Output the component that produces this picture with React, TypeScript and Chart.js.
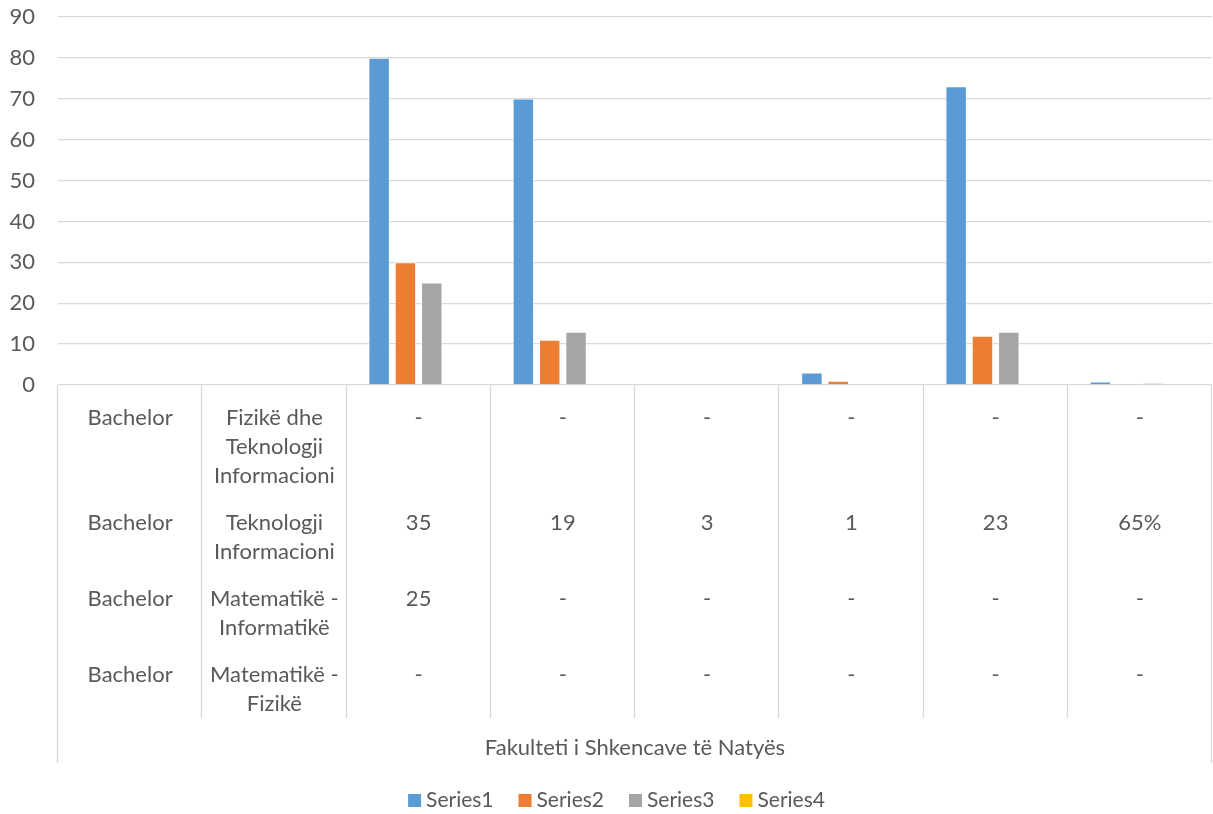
import React, { useEffect, useRef } from "react";
import { Chart, registerables } from "chart.js";

Chart.register(...registerables);

// ---- data ----
const seriesNames = ["Series1", "Series2", "Series3", "Series4"];
const series1 = [0, 0, 80, 70, 0, 3, 73, 0.8];
const series2 = [0, 0, 30, 11, 0, 1, 12, 0.3];
const series3 = [0, 0, 25, 13, 0, 0, 13, 0.5];
const series4 = [0, 0, 0, 0, 0, 0, 0, 0];
const seriesColors = ["#5B9BD5", "#ED7D31", "#A5A5A5", "#FFC000"];

// multi-level category axis (4 rows, 8 columns)
const degreeLabels = ["Bachelor", "Bachelor", "Bachelor", "Bachelor"];
const programLabels = [
  "Fizikë dhe\nTeknologji\nInformacioni",
  "Teknologji\nInformacioni",
  "Matematikë -\nInformatikë",
  "Matematikë -\nFizikë",
];
const rowFizikeTI = ["-", "-", "-", "-", "-", "-"];
const rowTeknologji = ["35", "19", "3", "1", "23", "65%"];
const rowMatInf = ["25", "-", "-", "-", "-", "-"];
const rowMatFiz = ["-", "-", "-", "-", "-", "-"];
const facultyLabel = "Fakulteti i Shkencave të Natyës";

const yTicksMin = 0;
const yTicksMax = 90;
const yTickStep = 10;

// build table: rows[r][c]
const valueRows = [rowFizikeTI, rowTeknologji, rowMatInf, rowMatFiz];
const tableRows: string[][] = valueRows.map((vals, r) => [degreeLabels[r], programLabels[r], ...vals]);
const categoryLabels: string[] = tableRows[0].map((_, c) => tableRows.map((row) => row[c].replace(/\n/g, " ")).join(" | "));

const FONT = "Lato";
const TEXT = "#595959";
const GRID = "#D9D9D9";
const FS = 22;

const tablePlugin = {
  id: "tableAxis",
  afterDraw(chart: any) {
    const { ctx, chartArea, scales } = chart;
    const xs = scales.x;
    const left = chartArea.left;
    const right = chartArea.right;
    const top = chartArea.bottom;
    const n = chart.data.labels.length;
    const lineH = 29;
    const padTop = 18;
    const rowHeights = tableRows.map((row) => padTop + lineH * Math.max(...row.map((t) => t.split("\n").length)));
    const tableBottom = top + rowHeights.reduce((a, b) => a + b, 0);
    const facultyBottom = tableBottom + 45;

    ctx.save();
    ctx.strokeStyle = GRID;
    ctx.lineWidth = 1.3;
    const bounds: number[] = [];
    for (let i = 0; i <= n; i++) {
      if (i === 0) bounds.push(left);
      else if (i === n) bounds.push(right);
      else bounds.push((xs.getPixelForValue(i - 1) + xs.getPixelForValue(i)) / 2);
    }
    ctx.beginPath();
    bounds.forEach((bx, i) => {
      const px = Math.round(bx) - 0.5;
      ctx.moveTo(px, top);
      ctx.lineTo(px, i === 0 || i === n ? facultyBottom : tableBottom);
    });
    ctx.stroke();

    ctx.fillStyle = TEXT;
    ctx.font = `${FS}px ${FONT}`;
    ctx.textAlign = "center";
    ctx.textBaseline = "middle";
    let y0 = top;
    tableRows.forEach((row, r) => {
      row.forEach((txt, c) => {
        const cx = xs.getPixelForValue(c);
        txt.split("\n").forEach((line, j) => {
          ctx.fillText(line, cx, y0 + padTop + lineH / 2 + j * lineH);
        });
      });
      y0 += rowHeights[r];
    });
    ctx.fillText(facultyLabel, (left + right) / 2, tableBottom + 30);

    // legend
    ctx.font = `21px ${FONT}`;
    const boxS = 13;
    const gapBoxText = 5;
    const gapItems = 25;
    const widths = chart.data.datasets.map((d: any) => boxS + gapBoxText + ctx.measureText(d.label).width);
    const total = widths.reduce((a: number, b: number) => a + b, 0) + gapItems * (widths.length - 1);
    let lx = chart.width / 2 + 10 - total / 2;
    const ly = 800.5;
    ctx.textAlign = "left";
    chart.data.datasets.forEach((d: any, i: number) => {
      ctx.fillStyle = d.backgroundColor;
      ctx.fillRect(lx, ly - boxS / 2, boxS, boxS);
      ctx.fillStyle = TEXT;
      ctx.fillText(d.label, lx + boxS + gapBoxText, ly);
      lx += widths[i] + gapItems;
    });
    ctx.restore();
  },
};

export default function App() {
  const ref = useRef<HTMLCanvasElement>(null);
  useEffect(() => {
    if (!ref.current) return;
    Chart.defaults.font.family = FONT;
    const allSeries = [series1, series2, series3, series4];
    const chart = new Chart(ref.current, {
      type: "bar",
      data: {
        labels: categoryLabels,
        datasets: allSeries.map((s, i) => ({
          label: seriesNames[i],
          data: s,
          backgroundColor: seriesColors[i],
          borderColor: "#FFFFFF",
          borderWidth: 0.8,
          categoryPercentage: 0.73,
          barPercentage: 0.8,
        })),
      },
      options: {
        animation: false,
        responsive: true,
        maintainAspectRatio: false,
        layout: { padding: { top: 17, right: 1, left: 0, bottom: 0 } },
        plugins: {
          legend: { display: false },
          tooltip: { enabled: false },
        },
        scales: {
          x: {
            grid: { display: false },
            border: { display: false },
            ticks: { display: false },
            afterFit: (s: any) => {
              s.height = 814 - 385;
            },
          },
          y: {
            min: yTicksMin,
            max: yTicksMax,
            ticks: {
              stepSize: yTickStep,
              color: TEXT,
              font: { size: FS, family: FONT },
              padding: 0,
            },
            grid: { color: GRID, lineWidth: 1.3, drawTicks: true, tickLength: 23, tickColor: "rgba(0,0,0,0)" },
            border: { display: false },
            afterFit: (s: any) => {
              s.width = 58;
            },
          },
        },
      },
      plugins: [tablePlugin],
    });
    (document as any).fonts?.ready?.then(() => chart.update());
    return () => chart.destroy();
  }, []);
  return (
    <div style={{ position: "fixed", left: 0, top: 0, width: 1213, height: 814, background: "#fff" }}>
      <canvas ref={ref} />
    </div>
  );
}
